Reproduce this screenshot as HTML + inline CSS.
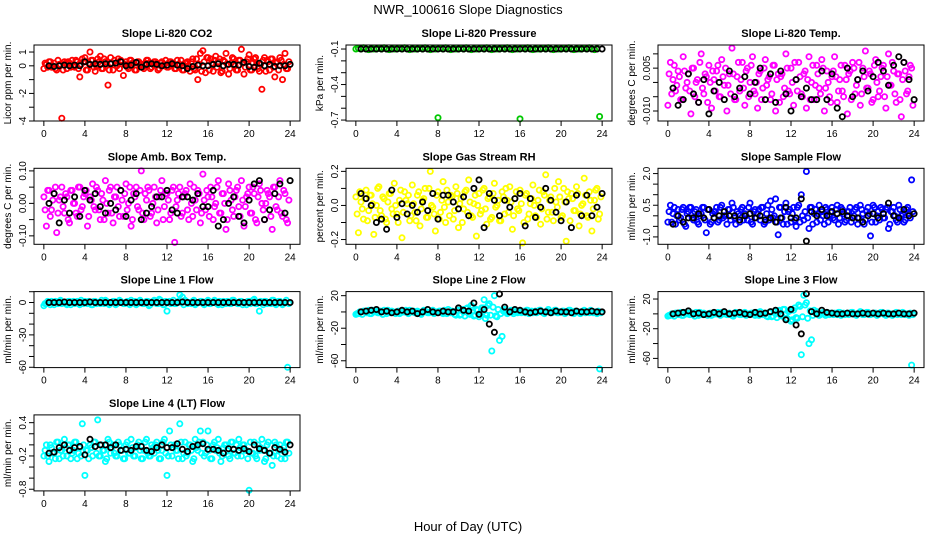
<!DOCTYPE html>
<html><head><meta charset="utf-8"><style>
body{margin:0;background:#fff}
svg{display:block;font-family:"Liberation Sans",sans-serif}
</style></head><body>
<svg id="chart" width="936" height="540" viewBox="0 0 936 540" xmlns="http://www.w3.org/2000/svg">
<text x="468" y="14" text-anchor="middle" font-size="13">NWR_100616  Slope Diagnostics</text>
<text x="468" y="531" text-anchor="middle" font-size="13">Hour of Day (UTC)</text>
</svg>
<script>
const hoursColor=[0,0.25,0.5,0.75,1,1.25,1.5,1.75,2,2.25,2.5,2.75,3,3.25,3.5,3.75,4,4.25,4.5,4.75,5,5.25,5.5,5.75,6,6.25,6.5,6.75,7,7.25,7.5,7.75,8,8.25,8.5,8.75,9,9.25,9.5,9.75,10,10.25,10.5,10.75,11,11.25,11.5,11.75,12,12.25,12.5,12.75,13,13.25,13.5,13.75,14,14.25,14.5,14.75,15,15.25,15.5,15.75,16,16.25,16.5,16.75,17,17.25,17.5,17.75,18,18.25,18.5,18.75,19,19.25,19.5,19.75,20,20.25,20.5,20.75,21,21.25,21.5,21.75,22,22.25,22.5,22.75,23,23.25,23.5,23.75];
const hoursBand=[0.125,0.375,0.625,0.875,1.125,1.375,1.625,1.875,2.125,2.375,2.625,2.875,3.125,3.375,3.625,3.875,4.125,4.375,4.625,4.875,5.125,5.375,5.625,5.875,6.125,6.375,6.625,6.875,7.125,7.375,7.625,7.875,8.125,8.375,8.625,8.875,9.125,9.375,9.625,9.875,10.125,10.375,10.625,10.875,11.125,11.375,11.625,11.875,12.125,12.375,12.625,12.875,13.125,13.375,13.625,13.875,14.125,14.375,14.625,14.875,15.125,15.375,15.625,15.875,16.125,16.375,16.625,16.875,17.125,17.375,17.625,17.875,18.125,18.375,18.625,18.875,19.125,19.375,19.625,19.875,20.125,20.375,20.625,20.875,21.125,21.375,21.625,21.875,22.125,22.375,22.625,22.875,23.125,23.375,23.625,23.875];
const hoursBlack=[0.5,1,1.5,2,2.5,3,3.5,4,4.5,5,5.5,6,6.5,7,7.5,8,8.5,9,9.5,10,10.5,11,11.5,12,12.5,13,13.5,14,14.5,15,15.5,16,16.5,17,17.5,18,18.5,19,19.5,20,20.5,21,21.5,22,22.5,23,23.5,24];
const xTickLabels=["0","4","8","12","16","20","24"];

const co2Color=[-0.2,0.1,0.3,-0.1,0.2,-0.3,0.1,-3.8,0.3,-0.2,0.2,0.4,-0.1,0.3,-0.8,0.5,0.6,-0.3,1.0,0.4,-0.4,0.5,0.7,-0.2,0.3,-1.4,0.6,-0.3,0.2,0.5,0.4,-0.7,0.3,-0.2,0.4,0.2,-0.3,0.3,0.1,-0.2,0.4,0.2,-0.1,0.3,0.2,-0.2,0.3,0.1,-0.1,0.3,0.2,-0.2,0.4,0.1,-0.3,0.2,0.3,-0.4,0.5,-0.3,-1.0,0.9,1.1,-0.5,0.6,0.5,-0.4,0.7,0.3,-0.5,0.4,0.9,-0.6,0.2,0.5,-0.3,0.4,1.2,-0.6,0.3,0.8,-0.3,0.5,0.2,-0.4,-1.7,0.6,0.4,-0.3,0.5,-0.8,0.3,0.6,-1.0,0.9,-0.2];
const co2Band=[0.2,-0.1,0.3,0.0,-0.2,0.4,0.1,-0.3,0.2,0.3,-0.1,0.0,0.4,-0.2,0.1,0.3,-0.3,0.2,0.4,-0.1,0.0,0.3,-0.2,0.5,0.1,-0.3,0.2,0.4,0.0,-0.2,0.3,0.1,-0.1,0.4,0.2,-0.3,0.3,0.0,-0.1,0.2,0.4,-0.2,0.1,0.3,-0.3,0.2,0.0,0.4,-0.1,0.3,0.2,-0.2,0.1,0.4,-0.3,0.2,0.0,0.3,-0.2,0.5,0.1,-0.4,0.3,0.6,-0.3,0.2,0.4,-0.1,0.5,-0.4,0.3,0.1,-0.2,0.6,0.0,-0.3,0.4,0.2,-0.1,0.5,-0.3,0.2,0.6,-0.2,0.1,0.4,-0.4,0.3,0.5,-0.1,0.2,-0.3,0.4,0.1,-0.2,0.3];
const co2Black=[0,-0.05,0,0.05,0,0.05,0,0.3,0.1,0.15,0.1,0.15,0.15,0.2,0.3,0,0.05,0.25,-0.1,0.1,0.15,0.1,0,0.05,0.15,0.05,0,-0.2,-0.05,0.05,0,0,0.1,0.15,0,0.1,0.1,0.05,0.25,-0.05,-0.1,0.2,0,0.1,-0.05,0,0,0.1];

const presColor=[-0.1,-0.095,-0.1,-0.09,-0.1,-0.105,-0.095,-0.1,-0.1,-0.095,-0.1,-0.09,-0.1,-0.105,-0.095,-0.1,-0.1,-0.095,-0.1,-0.09,-0.1,-0.105,-0.095,-0.1,-0.1,-0.095,-0.1,-0.09,-0.1,-0.105,-0.095,-0.1,-0.68,-0.095,-0.1,-0.09,-0.1,-0.105,-0.095,-0.1,-0.1,-0.095,-0.1,-0.09,-0.1,-0.105,-0.095,-0.1,-0.1,-0.095,-0.1,-0.09,-0.1,-0.105,-0.095,-0.1,-0.1,-0.095,-0.1,-0.09,-0.1,-0.105,-0.095,-0.1,-0.69,-0.095,-0.1,-0.09,-0.1,-0.105,-0.095,-0.1,-0.1,-0.095,-0.1,-0.09,-0.1,-0.105,-0.095,-0.1,-0.1,-0.095,-0.1,-0.09,-0.1,-0.105,-0.095,-0.1,-0.1,-0.095,-0.1,-0.09,-0.1,-0.105,-0.095,-0.67];
const presBand=[];
const presBlack=[-0.1,-0.1,-0.1,-0.1,-0.1,-0.1,-0.1,-0.1,-0.1,-0.1,-0.1,-0.1,-0.1,-0.1,-0.1,-0.1,-0.1,-0.1,-0.1,-0.1,-0.1,-0.1,-0.1,-0.1,-0.1,-0.1,-0.1,-0.1,-0.1,-0.1,-0.1,-0.1,-0.1,-0.1,-0.1,-0.1,-0.1,-0.1,-0.1,-0.1,-0.1,-0.1,-0.1,-0.1,-0.1,-0.1,-0.1,-0.1];

const tempColor=[-0.008,0.007,0.001,-0.003,0.004,-0.006,0.009,-0.002,0.003,-0.011,0.005,0.000,-0.007,0.010,-0.004,0.002,0.006,-0.009,0.001,0.004,-0.005,0.008,-0.001,-0.010,0.003,0.012,-0.006,0.002,-0.003,0.007,-0.008,0.005,0.000,0.009,-0.004,-0.009,0.004,-0.002,0.008,0.001,-0.006,0.006,-0.010,0.003,0.002,-0.005,0.010,-0.003,0.005,-0.008,0.001,0.007,-0.004,0.003,-0.009,0.009,0.000,-0.006,0.006,-0.002,0.008,-0.010,0.004,-0.005,0.002,0.009,-0.007,0.001,-0.003,0.006,-0.011,0.004,0.007,-0.004,0.001,-0.008,0.005,0.011,-0.002,0.003,-0.006,0.008,-0.005,0.002,0.006,-0.009,0.010,-0.001,0.004,-0.007,0.003,-0.012,0.007,-0.004,0.002,0.005];
const tempBand=[0.003,-0.004,0.006,-0.001,0.002,-0.006,0.004,0.000,-0.003,0.005,-0.005,0.001,0.007,-0.002,0.003,-0.007,0.000,0.004,-0.003,0.006,-0.005,0.002,0.005,-0.001,-0.004,0.003,-0.006,0.007,0.001,-0.002,0.004,-0.005,0.006,-0.003,0.000,0.003,-0.006,0.005,-0.001,0.002,-0.004,0.006,0.001,-0.007,0.003,-0.002,0.005,-0.004,0.000,0.007,-0.003,0.002,-0.005,0.004,0.001,-0.006,0.006,-0.001,0.003,-0.004,0.005,-0.002,0.000,-0.007,0.004,0.002,-0.003,0.006,-0.005,0.001,0.003,-0.006,0.005,-0.001,0.007,-0.004,0.002,-0.002,0.004,-0.007,0.006,0.000,-0.003,0.005,-0.005,0.002,-0.001,0.007,-0.004,0.003,-0.006,0.001,0.004,-0.003,0.006,-0.008];
const tempBlack=[-0.002,-0.008,-0.006,0.003,-0.004,-0.007,0.001,-0.011,-0.003,0.000,-0.006,0.004,-0.005,-0.002,0.002,-0.004,0.000,0.005,-0.006,0.003,-0.007,0.004,-0.004,-0.010,0.001,-0.005,-0.002,-0.006,-0.006,0.004,-0.006,0.003,-0.009,-0.012,0.005,-0.005,0.001,0.004,-0.003,0.002,0.007,0.004,-0.001,0.006,0.009,0.007,0.001,-0.006];

const ambColor=[0.02,-0.07,0.04,-0.02,0.03,-0.09,0.01,0.05,-0.03,0.02,-0.06,0.04,0.00,-0.04,0.05,-0.01,0.03,-0.07,0.02,0.06,-0.02,0.04,-0.05,0.01,0.07,-0.03,0.05,-0.06,0.02,-0.01,0.04,-0.04,0.06,0.00,-0.07,0.03,0.05,-0.02,0.10,-0.05,0.01,0.04,-0.03,0.05,-0.06,0.02,0.07,-0.01,0.03,-0.05,0.04,-0.12,0.01,0.05,-0.03,0.03,-0.02,0.06,-0.04,0.01,0.04,-0.06,0.09,-0.02,0.02,0.05,-0.05,0.00,0.07,-0.03,0.03,-0.08,0.06,0.01,-0.04,0.04,-0.01,0.07,-0.07,0.02,0.05,-0.03,0.03,-0.06,0.06,0.00,-0.05,0.04,0.02,-0.08,0.05,-0.02,0.07,-0.04,0.03,-0.06];
const ambBand=[-0.02,0.04,-0.04,0.01,0.05,-0.03,0.02,-0.01,0.03,-0.05,0.04,0.00,-0.03,0.05,-0.02,0.02,0.04,-0.04,0.01,-0.01,0.05,-0.02,0.03,-0.05,0.00,0.04,-0.03,0.02,0.05,-0.04,0.01,0.03,-0.02,0.05,-0.05,0.02,-0.01,0.04,-0.03,0.03,0.05,-0.04,0.00,0.02,-0.02,0.04,-0.05,0.03,0.01,-0.03,0.05,-0.01,0.03,-0.04,0.02,0.04,-0.05,0.00,0.05,-0.02,0.03,-0.03,0.01,0.04,-0.04,0.02,-0.01,0.05,-0.03,0.03,0.00,-0.05,0.04,-0.02,0.02,0.05,-0.04,0.01,-0.01,0.03,-0.03,0.05,-0.05,0.02,0.04,-0.02,0.00,0.03,-0.04,0.05,-0.01,0.02,-0.03,0.04,-0.05,0.01];
const ambBlack=[0.00,0.03,-0.06,0.01,-0.03,0.02,-0.04,0.04,0.01,0.03,-0.01,-0.03,0.00,-0.02,0.04,-0.04,0.01,0.03,-0.05,-0.03,-0.01,0.02,0.02,0.04,-0.02,-0.03,0.02,0.02,0.01,0.03,-0.01,-0.01,0.04,-0.07,-0.05,0.00,0.02,-0.04,-0.06,0.01,0.06,0.07,-0.05,-0.02,0.03,0.06,-0.03,0.07];

const rhColor=[0.05,-0.16,0.02,-0.08,0.09,-0.03,0.06,-0.17,0.00,0.11,-0.06,0.04,-0.10,0.07,-0.02,0.13,-0.05,0.03,-0.19,0.08,0.01,-0.09,0.12,-0.04,0.06,-0.12,0.03,0.10,-0.07,0.20,-0.01,-0.15,0.08,-0.04,0.14,-0.10,0.02,0.06,-0.08,0.11,-0.13,0.04,-0.02,0.09,0.15,-0.06,0.01,-0.18,0.07,-0.03,0.10,-0.11,0.05,-0.07,0.13,0.00,-0.09,0.08,-0.05,0.03,0.11,-0.14,0.04,-0.02,0.09,-0.22,0.06,-0.08,0.01,0.12,-0.06,0.03,-0.11,0.08,0.18,-0.04,0.05,-0.09,0.02,0.14,-0.07,0.10,-0.21,0.04,0.07,-0.03,0.11,-0.12,0.00,0.16,-0.06,0.08,-0.15,0.03,0.10,-0.05];
const rhBand=[-0.05,0.08,-0.02,0.04,-0.09,0.06,0.01,-0.07,0.10,-0.03,0.05,-0.08,0.02,0.07,-0.05,0.00,-0.10,0.09,-0.04,0.03,0.06,-0.06,0.01,-0.09,0.08,-0.02,0.04,-0.07,0.10,0.00,-0.05,0.06,-0.08,0.03,-0.01,0.09,-0.06,0.05,-0.03,0.07,0.01,-0.10,0.08,-0.04,0.02,-0.07,0.06,0.00,-0.05,0.09,-0.02,0.04,-0.08,0.07,-0.01,0.03,-0.09,0.05,0.10,-0.04,0.02,-0.06,0.08,-0.03,0.01,-0.10,0.07,-0.05,0.04,0.00,-0.07,0.09,-0.02,0.06,-0.08,0.03,-0.04,0.10,-0.01,0.05,-0.06,0.02,0.08,-0.09,0.04,-0.03,0.07,-0.05,0.01,0.06,-0.07,0.03,-0.02,0.09,-0.08,0.05];
const rhBlack=[0.07,0.04,0.00,-0.10,-0.08,-0.14,0.09,-0.07,0.01,-0.05,0.00,-0.04,0.02,-0.03,0.07,-0.08,0.06,0.06,0.02,-0.02,0.05,-0.06,0.10,0.15,-0.13,0.07,0.03,-0.06,0.03,-0.01,0.04,0.07,-0.12,0.04,-0.07,-0.01,0.10,0.03,-0.04,-0.09,0.02,-0.13,0.06,-0.06,0.06,-0.06,-0.01,0.07];

const sampColor=[-0.3,0.5,0.1,-0.4,0.3,-0.1,0.4,-0.5,0.2,0.4,-0.2,0.3,-0.4,0.1,0.4,-0.8,0.3,-0.3,0.2,0.4,-0.2,0.5,0.0,-0.4,0.3,0.6,-0.1,0.2,-0.3,0.4,0.1,-0.2,0.6,-0.4,0.3,0.1,-0.2,0.4,-0.3,0.5,0.7,-0.1,0.8,-0.9,0.4,-0.4,0.6,0.2,-0.3,0.4,-0.5,0.5,1.0,-0.2,2.1,-0.6,0.4,0.1,-0.3,0.5,0.2,-0.4,0.3,0.0,0.4,-0.2,0.5,-0.1,0.3,-0.3,0.2,0.4,-0.1,0.3,-0.4,0.5,0.1,-0.2,0.4,-0.95,0.5,-0.3,0.2,0.4,-0.1,0.3,-0.6,0.2,0.4,-0.2,0.5,0.0,-0.3,0.3,0.1,1.7];
const sampBand=[0.2,-0.3,0.4,0.0,-0.2,0.3,-0.4,0.1,0.4,-0.1,0.2,-0.3,0.0,0.4,-0.2,0.3,-0.4,0.1,0.2,-0.3,0.4,-0.1,0.0,0.3,-0.2,0.4,-0.4,0.1,0.3,-0.2,0.0,0.4,-0.3,0.2,-0.1,0.3,0.4,-0.4,0.1,-0.2,0.3,0.0,-0.3,0.4,-0.1,0.2,-0.4,0.3,0.1,-0.2,0.4,-0.3,0.0,0.2,-0.1,0.4,-0.4,0.3,0.1,-0.2,0.0,0.4,-0.3,0.2,-0.1,0.3,-0.4,0.4,0.1,-0.2,0.2,-0.3,0.0,0.4,-0.1,0.3,-0.4,0.2,0.1,-0.3,0.4,0.0,-0.2,0.3,-0.1,0.4,-0.4,0.2,0.0,-0.3,0.3,0.1,-0.2,0.4,-0.1,0.2];
const sampBlack=[-0.4,0.0,-0.3,-0.1,-0.1,0.1,-0.1,0.3,-0.1,0.0,0.2,0.0,0.0,-0.2,0.0,0.1,-0.1,0.0,-0.2,-0.1,-0.3,-0.1,0.4,-0.1,-0.1,0.8,-1.2,0.2,0.0,0.3,0.0,0.2,0.1,0.2,0.0,-0.1,-0.1,-0.3,0.0,0.1,-0.1,0.1,0.6,0.0,-0.1,0.3,0.0,0.1];

const line1Color=[-3,-1,0,1,-2,0,1,-1,0,-2,1,0,-1,1,-2,0,1,-1,0,-2,1,0,-1,0,2,-1,0,1,-2,0,1,-1,0,-1,2,0,-2,1,0,-1,1,-3,0,2,-1,3,0,-2,-8,1,0,-1,0,7,5,2,-1,0,1,-2,0,1,-1,0,2,-1,0,1,-2,0,1,-1,0,-1,2,0,-1,1,0,-2,1,0,3,-1,-8,0,1,-1,0,2,-1,0,1,-2,0,-60];
const line1Band=[-1,1,-2,0,1,-1,2,0,-1,1,-2,1,0,-1,2,-1,0,1,-2,1,-1,0,2,-1,1,-2,0,1,-1,2,0,-1,1,-2,0,1,-1,2,-1,0,1,-2,1,0,-1,2,-2,1,0,-1,2,-1,1,0,-2,1,0,-1,2,-1,0,1,-2,1,-1,0,2,-1,1,-2,0,1,-1,2,0,-1,1,-2,0,1,-1,2,-1,0,1,-2,1,0,-1,2,-2,1,0,-1,2,-1];
const line1Black=[0,0,0,0.5,0,0,0,0,0.5,0,0,0,0,0,0,0,0,0,0,0,0,0,0,0,0,0,0.5,0,0,0,0,0,0,0,0,0,0,0,0,0,0,0,0,0,0,0,0,0];

const line2Color=[-3,-2,0,1,-1,2,-2,0,1,-1,0,2,-2,0,1,-1,0,-2,1,0,-1,2,0,-1,1,-2,0,1,-1,0,2,-1,0,1,-2,0,3,-1,0,-4,2,-3,0,4,-2,8,-5,3,-6,5,15,-4,10,-48,20,-6,-35,-30,3,-2,1,0,2,-1,0,1,-1,2,0,-1,1,0,2,-1,0,3,-1,0,2,-1,0,1,-1,2,0,-2,1,0,-1,2,0,-1,1,0,-2,-70];
const line2Band=[-2,0,-3,1,-1,-2,2,0,-1,1,-3,0,2,-1,0,-2,1,-1,0,2,-2,0,1,-1,0,-3,2,0,-1,1,-2,0,1,-1,2,-2,0,1,-3,2,-4,3,-5,5,-3,6,-4,2,-2,5,-8,8,-4,6,-5,3,-2,1,0,-1,2,-2,0,1,-1,0,2,-2,1,0,-1,2,0,-2,1,0,-1,2,-1,0,1,-2,0,2,-1,1,0,-2,1,-1,0,2,-1,0,1,-1];
const line2Black=[0,1,2,3,0,1,-1,0,2,0,1,-2,0,3,0,-1,1,0,0,5,2,1,11,-3,3,-15,-25,22,6,0,3,2,0,-1,0,1,0,-1,1,0,0,-1,1,0,0,1,0,0];

const line3Color=[-3,-2,0,1,-1,2,-2,0,1,-1,0,2,-2,0,1,-1,0,-2,1,0,-1,2,0,-1,1,-2,0,1,-1,0,2,-1,0,1,-2,0,3,-1,0,-4,2,-3,0,4,-2,6,-7,3,-10,5,-5,12,-55,25,15,-40,-35,5,3,-2,1,0,2,-1,0,1,-1,2,0,-1,1,0,2,-1,0,3,-1,0,2,-1,0,1,-1,2,0,-2,1,0,-1,2,0,-1,1,0,-2,-69];
const line3Band=[-2,0,-3,1,-1,-2,2,0,-1,1,-3,0,2,-1,0,-2,1,-1,0,2,-2,0,1,-1,0,-3,2,0,-1,1,-2,0,1,-1,2,-2,0,1,-3,2,-4,3,-5,5,-3,6,-6,4,-8,8,-6,10,-4,12,-6,4,-2,1,0,-1,2,-2,0,1,-1,0,2,-2,1,0,-1,2,0,-2,1,0,-1,2,-1,0,1,-2,0,2,-1,1,0,-2,1,-1,0,2,-1,0,1,-1];
const line3Black=[0,1,2,4,0,1,-1,0,2,0,3,0,1,2,0,-1,2,0,1,3,5,0,-8,6,-15,-27,27,3,0,5,2,1,0,0,1,0,0,1,0,1,0,1,0,0,1,0,0,1];

const line4Color=[-0.2,0.0,-0.3,-0.05,-0.15,0.05,-0.25,-0.1,0.1,-0.2,0.0,-0.15,0.05,-0.25,-0.05,0.38,-0.55,-0.1,0.0,-0.2,0.05,0.45,-0.2,-0.1,-0.3,0.1,-0.15,0.0,-0.2,0.05,-0.1,-0.25,0.0,-0.15,0.1,-0.2,-0.05,0.05,-0.25,-0.1,0.1,-0.2,0.0,-0.15,0.05,-0.25,-0.1,0.1,-0.55,0.25,-0.2,0.0,-0.1,0.38,-0.25,0.05,-0.15,0.0,-0.3,0.1,-0.1,0.25,0.05,-0.15,0.25,-0.25,0.0,-0.1,0.1,-0.3,-0.05,0.0,-0.2,0.05,-0.15,0.0,0.1,-0.2,0.0,-0.1,-0.82,-0.15,0.05,-0.25,-0.1,0.1,-0.3,0.0,-0.15,-0.37,0.05,-0.2,0.0,-0.1,-0.25,0.05];
const line4Band=[-0.1,-0.2,0.0,-0.15,-0.25,0.05,-0.1,-0.2,-0.05,0.0,-0.25,-0.1,0.05,-0.15,-0.2,0.0,-0.1,-0.25,-0.05,0.05,-0.15,-0.2,0.0,-0.1,-0.25,0.05,-0.05,-0.15,-0.2,0.0,-0.1,-0.25,0.05,-0.15,-0.05,-0.2,0.0,-0.1,-0.25,0.05,-0.15,-0.2,-0.05,0.0,-0.1,-0.25,0.05,-0.15,-0.2,0.0,-0.05,-0.1,-0.25,0.05,-0.15,-0.2,0.0,-0.1,-0.25,-0.05,0.05,-0.15,-0.2,0.0,-0.1,-0.25,0.05,-0.05,-0.15,-0.2,0.0,-0.1,-0.25,0.05,-0.15,-0.2,-0.05,0.0,-0.1,-0.25,0.05,-0.15,-0.2,0.0,-0.05,-0.1,-0.25,0.05,-0.15,-0.2,0.0,-0.1,-0.25,-0.05,0.05,-0.15];
const line4Black=[-0.15,-0.13,-0.05,0.0,-0.1,-0.05,-0.03,-0.18,0.1,-0.03,0.0,0.0,-0.05,0.0,-0.1,-0.08,-0.1,-0.03,-0.03,-0.1,-0.12,-0.05,0.0,-0.05,-0.05,0.02,-0.08,-0.12,-0.03,0.0,0.02,-0.08,-0.08,-0.1,-0.15,-0.07,-0.08,-0.1,-0.07,-0.12,0.0,-0.07,-0.1,-0.15,-0.05,-0.08,-0.13,0.0];

const panelTitles=["Slope Li-820 CO2","Slope Li-820 Pressure","Slope Li-820 Temp.","Slope Amb. Box Temp.","Slope Gas Stream RH","Slope Sample Flow","Slope Line 1 Flow","Slope Line 2 Flow","Slope Line 3 Flow","Slope Line 4 (LT) Flow"];
const yAxisTitles=["Licor ppm per min.","kPa per min.","degrees C per min.","degrees C per min.","percent per min.","ml/min per min.","ml/min per min.","ml/min per min.","ml/min per min.","ml/min per min."];
const yTicks=[[1,0,-1,-2,-3,-4],[-0.1,-0.2,-0.3,-0.4,-0.5,-0.6,-0.7],[0.010,0.005,0,-0.005,-0.010],[0.10,0.05,0,-0.05,-0.10],[0.2,0.1,0,-0.1,-0.2],[2.0,1.5,1.0,0.5,0,-0.5,-1.0],[10,0,-10,-20,-30,-40,-50,-60],[20,0,-20,-40,-60],[20,0,-20,-40,-60],[0.4,0.2,0,-0.2,-0.4,-0.6,-0.8]];
const yTickLabels=[["1","0","","-2","","-4"],["-0.1","","","-0.4","","","-0.7"],["","0.005","","","-0.010"],["0.10","","0.00","","-0.10"],["0.2","","0.0","","-0.2"],["2.0","","","0.5","","","-1.0"],["","0","","","-30","","","-60"],["20","","-20","","-60"],["20","","-20","","-60"],["0.4","","","-0.2","","","-0.8"]];
const colorSeries=[co2Color,presColor,tempColor,ambColor,rhColor,sampColor,line1Color,line2Color,line3Color,line4Color];
const bandSeries=[co2Band,presBand,tempBand,ambBand,rhBand,sampBand,line1Band,line2Band,line3Band,line4Band];
const blackSeries=[co2Black,presBlack,tempBlack,ambBlack,rhBlack,sampBlack,line1Black,line2Black,line3Black,line4Black];

// layout (not data)
const yDomains=[[1.51,-4],[-0.066,-0.708],[0.0131,-0.0135],[0.108,-0.126],[0.218,-0.228],[2.25,-1.35],[10.1,-60.3],[25,-68.4],[30,-72.4],[0.54,-0.83]];
const colors=["#ff0000","#00c800","#ff00ff","#ff00ff","#ffff00","#0000ff","#00ffff","#00ffff","#00ffff","#00ffff"];
const NS="http://www.w3.org/2000/svg";
const svg=document.getElementById('chart');
function mk(tag,attrs,parent){const e=document.createElementNS(NS,tag);for(const k in attrs)e.setAttribute(k,attrs[k]);(parent||svg).appendChild(e);return e;}

for(let p=0;p<10;p++){
  const col=p%3,row=Math.floor(p/3);
  const L=34+col*312,W=266,T=45+row*123.3,H=76;
  const xS=h=>L+(h+0.96)/25.92*W;
  const yS=v=>T+(yDomains[p][0]-v)/(yDomains[p][0]-yDomains[p][1])*H;
  const g=mk('g',{});
  
  
  const t=mk('text',{x:L+W/2,y:T-8,'text-anchor':'middle','font-size':11,'font-weight':'bold'},g);
  
  
  t.textContent=panelTitles[p];
  const yt=mk('text',{transform:`translate(${L-23},${T+H/2}) rotate(-90)`,'text-anchor':'middle','font-size':10},g);
  
  
  yt.textContent=yAxisTitles[p];
  const pts=mk('g',{fill:'none','stroke-width':1.8},g);
  
  
  const band=bandSeries[p];
  for(let i=0;i<Math.min(band.length,hoursBand.length);i++){
    const c=mk('circle',{cx:xS(hoursBand[i]).toFixed(1),cy:yS(band[i]).toFixed(1),r:2.6,stroke:colors[p]},pts);
    
    
  }
  colorSeries[p].forEach((v,i)=>{
    const c=mk('circle',{cx:xS(hoursColor[i]).toFixed(1),cy:yS(v).toFixed(1),r:2.6,stroke:colors[p]},pts);
    
    
  });
  blackSeries[p].forEach((v,i)=>{
    const c=mk('circle',{cx:xS(hoursBlack[i]).toFixed(1),cy:yS(v).toFixed(1),r:2.6,stroke:'#000'},pts);
    
    
  });
  const box=mk('rect',{x:L,y:T,width:W,height:H,fill:'none',stroke:'#000','stroke-width':1},g);
  
  
  xTickLabels.forEach((lab,i)=>{
    const x=xS(Number(lab));
    mk('line',{x1:x,x2:x,y1:T+H,y2:T+H+5,stroke:'#000'},g);
    const tx=mk('text',{x:x,y:T+H+16,'text-anchor':'middle','font-size':10},g);
    
    
    tx.textContent=lab;
  });
  yTicks[p].forEach((v,i)=>{
    const y=yS(v);
    mk('line',{x1:L-5,x2:L,y1:y,y2:y,stroke:'#000'},g);
    if(yTickLabels[p][i]){
      const ty=mk('text',{transform:`translate(${L-8},${y}) rotate(-90)`,'text-anchor':'middle','font-size':10},g);
      
      
      ty.textContent=yTickLabels[p][i];
    }
  });
}
</script>
</body></html>
